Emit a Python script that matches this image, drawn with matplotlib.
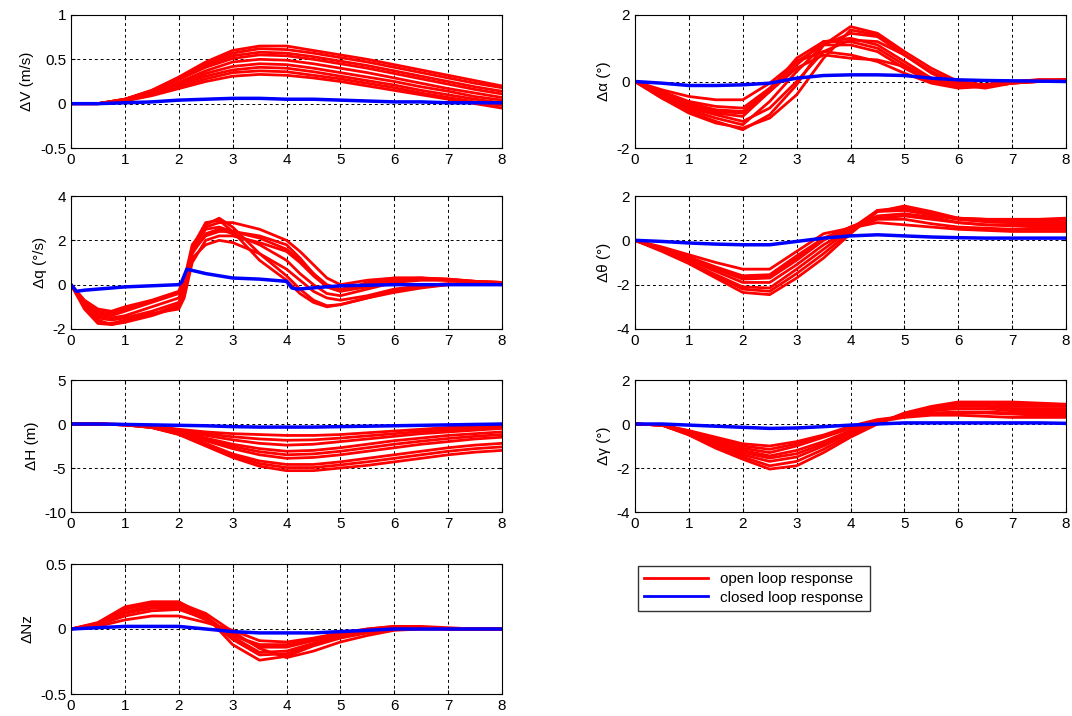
import matplotlib
matplotlib.use("Agg")
import matplotlib.pyplot as plt

plt.rcParams['font.family'] = ['Liberation Sans', 'DejaVu Sans']

# common time base (s)
t = [0, 0.5, 1, 1.5, 2, 2.5, 3, 3.5, 4, 4.5, 5, 5.5, 6, 6.5, 7, 7.5, 8]

# dV (m/s)
dV_open = [
    [0, 0, 0.05, 0.15, 0.30, 0.47, 0.60, 0.65, 0.65, 0.60, 0.55, 0.50, 0.44, 0.38, 0.32, 0.26, 0.20],
    [0, 0, 0.05, 0.15, 0.29, 0.45, 0.57, 0.62, 0.61, 0.57, 0.52, 0.47, 0.41, 0.35, 0.29, 0.23, 0.18],
    [0, 0, 0.05, 0.14, 0.28, 0.43, 0.54, 0.58, 0.57, 0.53, 0.48, 0.43, 0.37, 0.31, 0.25, 0.19, 0.14],
    [0, 0, 0.05, 0.14, 0.27, 0.41, 0.51, 0.55, 0.54, 0.50, 0.45, 0.40, 0.34, 0.28, 0.22, 0.16, 0.11],
    [0, 0, 0.04, 0.12, 0.24, 0.37, 0.47, 0.50, 0.49, 0.45, 0.40, 0.35, 0.29, 0.23, 0.17, 0.12, 0.07],
    [0, 0, 0.04, 0.12, 0.22, 0.34, 0.42, 0.45, 0.44, 0.40, 0.35, 0.30, 0.25, 0.19, 0.14, 0.08, 0.04],
    [0, 0, 0.04, 0.11, 0.21, 0.31, 0.38, 0.41, 0.40, 0.36, 0.31, 0.26, 0.21, 0.15, 0.10, 0.05, 0.01],
    [0, 0, 0.03, 0.10, 0.19, 0.28, 0.35, 0.37, 0.36, 0.32, 0.28, 0.23, 0.18, 0.12, 0.07, 0.02, -0.02],
    [0, 0, 0.03, 0.09, 0.17, 0.25, 0.31, 0.33, 0.32, 0.29, 0.25, 0.20, 0.15, 0.10, 0.05, 0.00, -0.05],
]
dV_closed = [0, 0, 0.01, 0.02, 0.04, 0.05, 0.06, 0.06, 0.05, 0.05, 0.04, 0.03, 0.02, 0.02, 0.01, 0.01, 0.01]

# d alpha (deg)
da_open = [
    [0, -0.50, -0.90, -1.20, -1.45, -1.00, -0.10, 1.10, 1.65, 1.45, 0.90, 0.40, 0.00, -0.10, 0.00, 0.05, 0.05],
    [0, -0.45, -0.85, -1.10, -1.30, -0.60, 0.30, 1.10, 1.45, 1.35, 0.80, 0.25, -0.10, -0.15, 0.00, 0.05, 0.05],
    [0, -0.40, -0.75, -0.95, -1.05, -0.30, 0.50, 1.20, 1.30, 1.10, 0.60, 0.10, -0.15, -0.15, -0.05, 0.00, 0.05],
    [0, -0.30, -0.60, -0.75, -0.80, -0.20, 0.60, 1.10, 1.10, 0.90, 0.40, 0.00, -0.15, -0.10, 0.00, 0.00, 0.05],
    [0, -0.25, -0.45, -0.55, -0.55, -0.05, 0.60, 0.90, 0.80, 0.60, 0.25, -0.05, -0.20, -0.15, -0.05, 0.00, 0.05],
    [0, -0.30, -0.70, -0.90, -0.95, -0.30, 0.40, 0.80, 0.70, 0.65, 0.45, 0.10, -0.10, -0.10, 0.00, 0.00, 0.00],
    [0, -0.45, -0.80, -1.00, -1.20, -0.80, 0.00, 0.90, 1.25, 1.20, 0.80, 0.30, -0.10, -0.20, -0.05, 0.00, 0.05],
    [0, -0.35, -0.65, -0.85, -0.90, -0.25, 0.70, 1.20, 1.20, 1.00, 0.50, 0.05, -0.15, -0.10, 0.00, 0.00, 0.05],
    [0, -0.50, -0.95, -1.25, -1.40, -1.10, -0.40, 0.70, 1.55, 1.40, 0.80, 0.30, -0.05, -0.15, -0.05, 0.05, 0.05],
]
da_closed = [0, -0.05, -0.12, -0.12, -0.10, -0.05, 0.10, 0.18, 0.20, 0.20, 0.18, 0.10, 0.05, 0.03, 0.02, 0.01, 0]

# dq (deg/s), finer time base around the steps at 2 s and 4 s
t_q = [0, 0.25, 0.5, 0.75, 1, 1.5, 2, 2.1, 2.25, 2.5, 2.75, 3, 3.5, 4, 4.25, 4.5, 4.75, 5, 5.5, 6, 6.5, 7, 7.5, 8]
dq_open = [
    [0, -1.0, -1.6, -1.8, -1.7, -1.4, -1.0, -0.5, 1.5, 2.7, 3.0, 2.6, 1.4, 0.4, -0.2, -0.7, -0.95, -0.9, -0.6, -0.3, -0.1, 0.0, 0.05, 0.05],
    [0, -0.8, -1.3, -1.4, -1.2, -0.8, -0.4, 0.2, 1.8, 2.6, 2.8, 2.8, 2.5, 2.0, 1.5, 0.9, 0.3, 0.0, 0.2, 0.3, 0.3, 0.25, 0.15, 0.1],
    [0, -0.9, -1.5, -1.6, -1.5, -1.2, -0.8, -0.2, 1.4, 2.3, 2.5, 2.3, 1.8, 1.1, 0.5, 0.0, -0.4, -0.5, -0.2, 0.1, 0.2, 0.2, 0.1, 0.1],
    [0, -0.7, -1.1, -1.2, -1.0, -0.7, -0.3, 0.3, 1.2, 1.8, 2.0, 1.9, 1.4, 0.7, 0.2, -0.3, -0.6, -0.7, -0.5, -0.2, -0.05, 0.05, 0.05, 0.05],
    [0, -1.0, -1.7, -1.75, -1.6, -1.3, -1.1, -0.6, 1.0, 2.0, 2.2, 2.2, 1.9, 1.5, 1.0, 0.4, -0.1, -0.3, -0.1, 0.2, 0.25, 0.2, 0.1, 0.1],
    [0, -0.85, -1.4, -1.5, -1.4, -1.0, -0.6, 0.0, 1.6, 2.5, 2.6, 2.4, 2.2, 1.8, 1.2, 0.5, -0.1, -0.3, 0.1, 0.3, 0.3, 0.2, 0.15, 0.1],
    [0, -1.1, -1.75, -1.8, -1.65, -1.35, -0.9, -0.3, 1.7, 2.8, 2.9, 2.4, 1.1, 0.2, -0.4, -0.8, -1.0, -0.9, -0.6, -0.35, -0.15, 0.0, 0.05, 0.05],
    [0, -0.75, -1.2, -1.3, -1.1, -0.75, -0.35, 0.25, 1.5, 2.2, 2.4, 2.4, 2.1, 1.6, 1.1, 0.5, 0.0, -0.2, 0.0, 0.25, 0.3, 0.25, 0.15, 0.1],
]
t_q_closed = [0, 0.1, 0.25, 1, 2, 2.05, 2.15, 2.5, 3, 3.5, 4, 4.1, 4.2, 5, 6, 7, 8]
dq_closed = [0, -0.3, -0.25, -0.1, 0.0, 0.1, 0.7, 0.5, 0.3, 0.25, 0.15, -0.15, -0.2, -0.05, 0, 0, 0]

# d theta (deg)
dth_open = [
    [0, -0.30, -0.65, -1.00, -1.30, -1.30, -0.50, 0.30, 0.55, 0.80, 0.70, 0.60, 0.50, 0.45, 0.40, 0.40, 0.40],
    [0, -0.35, -0.75, -1.20, -1.60, -1.55, -0.70, 0.10, 0.60, 1.10, 1.20, 1.05, 0.80, 0.70, 0.65, 0.60, 0.60],
    [0, -0.40, -0.90, -1.40, -1.90, -1.90, -1.10, -0.20, 0.50, 1.30, 1.35, 1.15, 0.95, 0.85, 0.80, 0.80, 0.80],
    [0, -0.45, -1.00, -1.60, -2.20, -2.30, -1.50, -0.60, 0.40, 1.35, 1.45, 1.20, 1.00, 0.95, 0.90, 0.90, 0.95],
    [0, -0.50, -1.05, -1.70, -2.35, -2.45, -1.70, -0.80, 0.30, 1.30, 1.55, 1.30, 1.00, 0.95, 0.95, 0.95, 1.00],
    [0, -0.40, -0.85, -1.30, -1.75, -1.70, -0.90, 0.00, 0.60, 1.00, 1.10, 0.95, 0.80, 0.70, 0.70, 0.70, 0.70],
    [0, -0.45, -1.00, -1.55, -2.10, -2.15, -1.30, -0.40, 0.50, 1.35, 1.40, 1.15, 0.95, 0.85, 0.80, 0.80, 0.85],
    [0, -0.38, -0.80, -1.25, -1.65, -1.60, -0.80, 0.05, 0.50, 0.95, 0.95, 0.75, 0.60, 0.55, 0.50, 0.50, 0.50],
]
dth_closed = [0, -0.05, -0.12, -0.17, -0.20, -0.20, -0.05, 0.10, 0.20, 0.25, 0.20, 0.15, 0.12, 0.10, 0.10, 0.10, 0.10]

# dH (m)
dH_open = [
    [0, 0, -0.10, -0.40, -1.20, -2.50, -3.80, -4.80, -5.30, -5.30, -5.00, -4.70, -4.30, -3.90, -3.50, -3.20, -3.00],
    [0, 0, -0.10, -0.40, -1.15, -2.35, -3.60, -4.50, -4.95, -4.95, -4.65, -4.30, -3.90, -3.50, -3.10, -2.80, -2.60],
    [0, 0, -0.10, -0.40, -1.10, -2.20, -3.40, -4.20, -4.60, -4.60, -4.30, -3.90, -3.50, -3.10, -2.70, -2.40, -2.20],
    [0, 0, -0.10, -0.35, -1.00, -1.90, -2.80, -3.50, -3.90, -3.80, -3.50, -3.10, -2.70, -2.30, -2.00, -1.70, -1.50],
    [0, 0, -0.10, -0.32, -0.95, -1.75, -2.55, -3.15, -3.50, -3.40, -3.10, -2.70, -2.30, -1.95, -1.65, -1.40, -1.20],
    [0, 0, -0.10, -0.30, -0.90, -1.60, -2.30, -2.80, -3.10, -3.00, -2.70, -2.30, -1.90, -1.60, -1.30, -1.10, -0.90],
    [0, 0, -0.05, -0.25, -0.80, -1.30, -1.80, -2.20, -2.40, -2.30, -2.00, -1.70, -1.40, -1.10, -0.90, -0.70, -0.50],
    [0, 0, -0.05, -0.22, -0.70, -1.10, -1.45, -1.70, -1.85, -1.80, -1.60, -1.35, -1.10, -0.85, -0.65, -0.50, -0.35],
    [0, 0, -0.05, -0.20, -0.60, -0.90, -1.10, -1.20, -1.30, -1.30, -1.20, -1.00, -0.80, -0.60, -0.40, -0.30, -0.20],
]
dH_closed = [0, 0, -0.05, -0.10, -0.15, -0.20, -0.30, -0.35, -0.35, -0.35, -0.30, -0.25, -0.20, -0.15, -0.10, -0.05, 0]

# d gamma (deg)
dg_open = [
    [0, -0.05, -0.50, -1.10, -1.60, -2.05, -1.90, -1.30, -0.60, 0.00, 0.50, 0.80, 1.00, 1.00, 1.00, 0.95, 0.90],
    [0, -0.05, -0.48, -1.05, -1.50, -1.90, -1.70, -1.15, -0.50, 0.02, 0.48, 0.75, 0.95, 0.95, 0.90, 0.90, 0.85],
    [0, -0.05, -0.45, -1.00, -1.40, -1.70, -1.50, -1.00, -0.40, 0.05, 0.45, 0.70, 0.85, 0.85, 0.80, 0.80, 0.80],
    [0, -0.05, -0.42, -0.90, -1.30, -1.55, -1.35, -0.90, -0.35, 0.08, 0.42, 0.65, 0.80, 0.80, 0.70, 0.70, 0.70],
    [0, -0.05, -0.40, -0.85, -1.20, -1.45, -1.20, -0.80, -0.30, 0.10, 0.40, 0.60, 0.70, 0.70, 0.60, 0.60, 0.60],
    [0, -0.05, -0.35, -0.75, -1.10, -1.30, -1.00, -0.60, -0.20, 0.10, 0.30, 0.40, 0.40, 0.35, 0.30, 0.30, 0.30],
    [0, -0.05, -0.32, -0.68, -1.00, -1.15, -0.90, -0.55, -0.15, 0.15, 0.35, 0.50, 0.55, 0.55, 0.50, 0.50, 0.50],
    [0, -0.05, -0.30, -0.60, -0.90, -1.00, -0.80, -0.50, -0.10, 0.20, 0.35, 0.45, 0.50, 0.50, 0.45, 0.40, 0.40],
]
dg_closed = [0, 0, -0.05, -0.10, -0.15, -0.20, -0.18, -0.12, -0.05, 0, 0.05, 0.05, 0.05, 0.05, 0.05, 0.05, 0.03]

# dNz (g)
dNz_open = [
    [0, 0.05, 0.17, 0.21, 0.21, 0.10, -0.12, -0.24, -0.21, -0.13, -0.07, -0.03, 0.00, 0, 0, 0, 0],
    [0, 0.04, 0.13, 0.18, 0.18, 0.09, -0.08, -0.20, -0.19, -0.12, -0.06, -0.02, 0.01, 0.01, 0, 0, 0],
    [0, 0.03, 0.10, 0.14, 0.15, 0.08, -0.04, -0.14, -0.14, -0.09, -0.04, -0.01, 0.01, 0.01, 0, 0, 0],
    [0, 0.02, 0.07, 0.10, 0.10, 0.05, -0.01, -0.09, -0.10, -0.07, -0.03, 0.00, 0.02, 0.02, 0.01, 0, 0],
    [0, 0.04, 0.15, 0.20, 0.20, 0.12, -0.02, -0.15, -0.22, -0.17, -0.10, -0.05, -0.01, 0, 0, 0, 0],
    [0, 0.045, 0.16, 0.19, 0.19, 0.10, -0.06, -0.18, -0.17, -0.11, -0.05, -0.02, 0.01, 0.01, 0, 0, 0],
    [0, 0.03, 0.12, 0.16, 0.16, 0.07, -0.05, -0.12, -0.12, -0.08, -0.04, 0.00, 0.02, 0.01, 0, 0, 0],
]
dNz_closed = [0, 0.01, 0.02, 0.02, 0.02, 0.00, -0.02, -0.03, -0.03, -0.03, -0.02, -0.01, 0, 0, 0, 0, 0]

# panel layout in pixels (left, top, right, bottom) on a 1072x716 canvas
W, H = 1072, 716
cols = [(71, 502), (635, 1066)]
rows = [(15, 148), (196, 329), (380, 512), (564, 694)]


def make_ax(fig, col, row):
    x0, x1 = cols[col]
    y0, y1 = rows[row]
    return fig.add_axes([x0 / W, 1 - y1 / H, (x1 - x0) / W, (y1 - y0) / H])


def draw(ax, t_open, open_curves, t_closed, closed, ylim, yticks, ylabel):
    for c in open_curves:
        ax.plot(t_open, c, color='red', lw=2.0)
    ax.plot(t_closed, closed, color='blue', lw=2.5)
    ax.set_xlim(0, 8)
    ax.set_ylim(*ylim)
    ax.set_xticks(range(9))
    ax.set_yticks(yticks)
    ax.set_yticklabels([('%g' % v) for v in yticks])
    ax.set_ylabel(ylabel, fontsize=11)
    ax.grid(True, color='black', linestyle=(0, (3, 3)), linewidth=0.7)
    ax.tick_params(direction='in', labelsize=11, top=True, right=True, length=3)
    for s in ax.spines.values():
        s.set_linewidth(0.8)


fig = plt.figure(figsize=(W / 100, H / 100), dpi=100)

ax = make_ax(fig, 0, 0)
draw(ax, t, dV_open, t, dV_closed, (-0.5, 1), [-0.5, 0, 0.5, 1], 'ΔV (m/s)')

ax = make_ax(fig, 1, 0)
draw(ax, t, da_open, t, da_closed, (-2, 2), [-2, 0, 2], 'Δα (°)')

ax = make_ax(fig, 0, 1)
draw(ax, t_q, dq_open, t_q_closed, dq_closed, (-2, 4), [-2, 0, 2, 4], 'Δq (°/s)')

ax = make_ax(fig, 1, 1)
draw(ax, t, dth_open, t, dth_closed, (-4, 2), [-4, -2, 0, 2], 'Δθ (°)')

ax = make_ax(fig, 0, 2)
draw(ax, t, dH_open, t, dH_closed, (-10, 5), [-10, -5, 0, 5], 'ΔH (m)')

ax = make_ax(fig, 1, 2)
draw(ax, t, dg_open, t, dg_closed, (-4, 2), [-4, -2, 0, 2], 'Δγ (°)')

ax = make_ax(fig, 0, 3)
draw(ax, t, dNz_open, t, dNz_closed, (-0.5, 0.5), [-0.5, 0, 0.5], 'ΔNz')

# legend in the empty slot
h_open, = ax.plot([], [], color='red', lw=2, label='open loop response')
h_closed, = ax.plot([], [], color='blue', lw=2, label='closed loop response')
fig.legend(handles=[h_open, h_closed], loc='upper left',
           bbox_to_anchor=(638 / W, 1 - 566 / H), fontsize=11,
           frameon=True, fancybox=False, edgecolor='black', handlelength=4.2,
           borderpad=0.4, labelspacing=0.3, borderaxespad=0)

fig.savefig('out.png', dpi=100)
